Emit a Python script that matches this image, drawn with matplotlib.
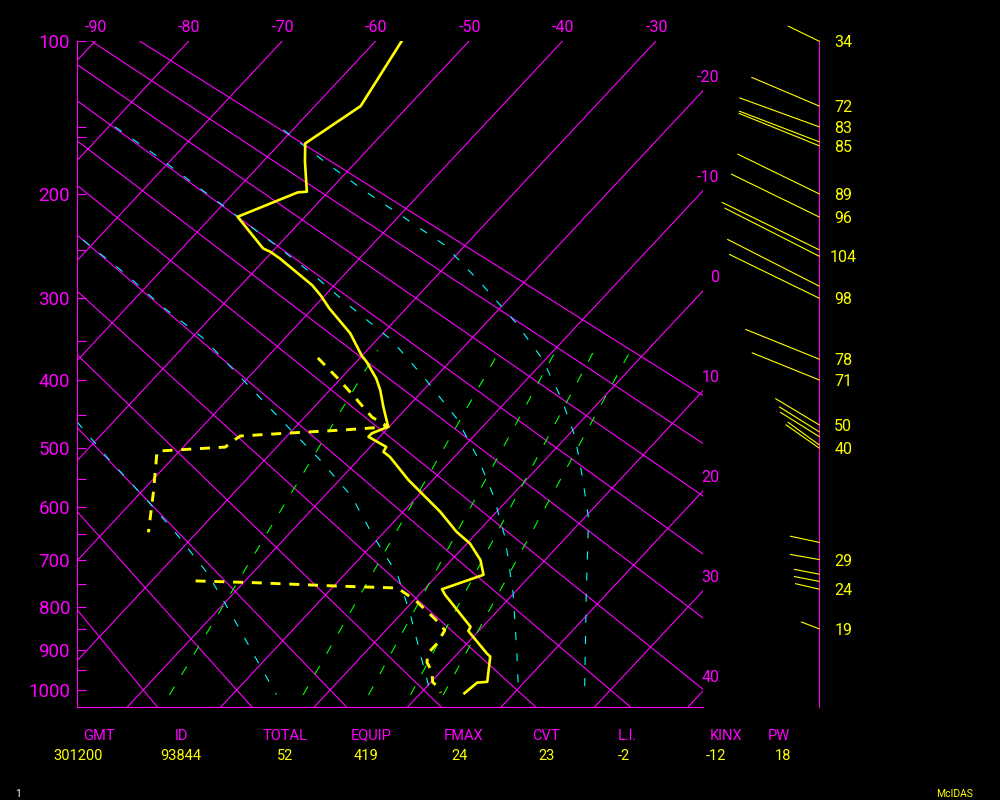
import numpy as np
import matplotlib
matplotlib.use("Agg")
import matplotlib.pyplot as plt

plt.rcParams["font.family"] = ["Roboto", "DejaVu Sans"]
plt.rcParams["lines.scale_dashes"] = False

MAGENTA = "#ff00ff"
YELLOW = "#ffff00"
CYAN = "#00ffff"
GREEN = "#00ff00"

KAPPA = 0.286
P_TOP, P_BOT = 100.0, 1045.0
SKEW = 18.64          # degC of skew per unit of p**kappa
X_MIN, X_MAX = -91.93, -24.94

# temperature sounding (hPa, degC)
temp_p = [100, 136.5, 161.4, 174.7, 198.2, 198.7, 219.5, 248.7, 251.9, 258.5,
          285.8, 296.6, 311.5, 340.4, 367.6, 376, 398, 414, 437.6, 466.9,
          477, 482.2, 498, 505.9, 514, 552.4, 608.6, 645.5, 667.9, 701,
          731.2, 761.6, 773.8, 845, 855, 908, 916, 979, 981, 1008.6]
temp_t = [-57.2, -55.1, -57.3, -55.5, -52.3, -53.2, -57.2, -51.3, -50.2, -48.5,
          -42.4, -40.5, -38.2, -33.5, -30.1, -28.9, -26.2, -24.6, -22.6, -20.1,
          -21.2, -21.2, -18.3, -18.1, -16.9, -12.6, -6.0, -2.3, 0.3, 3.1,
          4.9, 1.9, 2.8, 8.7, 8.9, 13.1, 13.8, 16.0, 15.0, 14.7]

# dewpoint sounding, gap (nan) where it is missing
dewp_p = [371, 398, 424, 452.5, 466.9, 471.8, 476.4, 481, 488.9, 498.3,
          504.7, 522.5, 573, 646.6, np.nan,
          744, 748, 755, 759, 785, 828, 853, 884, 908, 930, 952, 980, 993, 1007]
dewp_t = [-34.5, -30.3, -26.6, -22.8, -20.1, -24.6, -30.0, -35.0, -35.3, -35.5,
          -42.4, -41.4, -38.7, -35.2, np.nan,
          -25.3, -18.4, -9.5, -3.0, 0.1, 4.2, 6.3, 6.8, 6.8, 7.6, 9.0, 10.2, 11.3, 12.1]

# winds along the right axis
wind_p = [100, 136.5, 150, 160.3, 163.1, 200, 219.7, 250, 256.3, 286.9, 300, 372.6,
          400, 464.1, 474.6, 482, 495, 500, 666, 700, 730, 745, 761.6, 850]
wind_dir = [296, 293, 290, 291, 292, 296, 296, 296, 297, 297, 296, 292,
            292, 301, 302, 302, 306, 305, 282, 280, 281, 281, 283, 291]
wind_spd = [34, 72, 83, 84, 85, 89, 96, 106, 104, 101, 98, 78,
            71, 50, 46, 45, 38, 40, 29, 29, 25, 25, 24, 19]
wind_lab = [1, 1, 1, 0, 1, 1, 1, 0, 1, 0, 1, 1,
            1, 1, 0, 0, 0, 1, 0, 1, 0, 0, 1, 1]

isotherms = np.arange(-90, 41, 10)
dry_adiabats = np.arange(-20, 91, 10)

# saturated adiabats
moist_a_p = [150, 168.5, 191.4, 216.5, 243.9, 273.6, 311.5, 348.6, 398, 454.5, 516.6, 581.3, 655.4, 770, 900.5, 1009]
moist_a_t = [-79.3, -72.6, -65.3, -58.0, -50.7, -43.6, -35.7, -28.4, -21.0, -13.6, -7.3, -1.8, 3.4, 9.9, 16.0, 20.5]
moist_b_p = [152, 174.7, 196.9, 219.5, 245.5, 282.3, 326.8, 371.4, 425.4, 482.2, 550, 620.4, 785, 1015]
moist_b_t = [-61.0, -53.4, -46.4, -39.5, -32.2, -24.8, -17.0, -10.5, -4.4, 0.9, 5.9, 10.5, 18.4, 27.8]
moist_c_p = [240.7, 273.6, 309.7, 346.5, 398, 456.9, 522, 581.3, 652.2, 731.2, 813, 904.6, 1005]
moist_c_t = [-71.4, -63.6, -56.2, -48.7, -40.6, -32.2, -23.7, -17.0, -10.9, -4.3, 0.8, 5.8, 10.9]
moist_d_p = [459.4, 516.6, 587.2, 649, 728, 811.6, 908, 1012]
moist_d_t = [-53.9, -46.9, -38.6, -32.1, -24.8, -18.5, -11.9, -5.3]

# mixing ratio lines: temperature at their lower and upper ends
mix_t_bot = [-16.7, -2.4, 4.6, 9.1, 12.6]
mix_t_top = [-28.9, -15.8, -9.8, -5.7, -1.8]
MIX_P_BOT, MIX_P_TOP = 1013, 361

p_major = [100, 200, 300, 400, 500, 600, 700, 800, 900, 1000]
p_minor = [150, 157, 250, 350, 450, 550, 650, 750, 850, 950]

hdr_names = ["GMT", "ID", "TOTAL", "EQUIP", "FMAX", "CVT", "L.I.", "KINX", "PW"]
hdr_values = ["301200", "93844", "52", "419", "24", "23", "-2", "-12", "18"]
hdr_name_x = [99, 181, 285, 371, 464, 546, 627, 726, 779]
hdr_value_x = [78, 181, 285, 366, 460, 547, 624, 716, 783]


def pk(p):
    return np.sign(p) * np.abs(p) ** KAPPA


def pk_inv(y):
    return np.sign(y) * np.abs(y) ** (1.0 / KAPPA)


def skew_x(t, p):
    return np.asarray(t, float) - SKEW * (pk(np.asarray(p, float)) - pk(P_TOP))


fig = plt.figure(figsize=(10, 8), dpi=100, facecolor="black")
bottom = 1 - 707 / 800
height = (707 - 41.3) / 800
ax = fig.add_axes([0.077, bottom, 0.626, height], facecolor="black")
ax.set_yscale("function", functions=(pk, pk_inv))
ax.set_xlim(X_MIN, X_MAX)
ax.set_ylim(P_BOT, P_TOP)

pp = np.linspace(P_TOP, P_BOT, 60)
for t in isotherms:
    ax.plot(skew_x(t, pp), pp, color=MAGENTA, lw=0.8)
for th in dry_adiabats:
    tt = (th + 273.15) * (pp / 1000.0) ** KAPPA - 273.15
    ax.plot(skew_x(tt, pp), pp, color=MAGENTA, lw=0.8)

for mp, mt in [(moist_a_p, moist_a_t), (moist_b_p, moist_b_t),
               (moist_c_p, moist_c_t), (moist_d_p, moist_d_t)]:
    ax.plot(skew_x(mt, mp), mp, color=CYAN, lw=0.8, dashes=(5.8, 9.4))

for tb, tt in zip(mix_t_bot, mix_t_top):
    ax.plot(skew_x([tb, tt], [MIX_P_BOT, MIX_P_TOP]), [MIX_P_BOT, MIX_P_TOP],
            color=GREEN, lw=0.8, dashes=(7.0, 10.0))

ax.plot(skew_x(dewp_t, dewp_p), dewp_p, color=YELLOW, lw=2.1, dashes=(7.2, 6.3))
ax.plot(skew_x(temp_t, temp_p), temp_p, color=YELLOW, lw=1.9)

for s in ["top", "right"]:
    ax.spines[s].set_visible(False)
for s in ["left", "bottom"]:
    ax.spines[s].set_color(MAGENTA)
    ax.spines[s].set_linewidth(0.8)
ax.set_xticks([])
ax.set_yticks(p_major)
ax.set_yticklabels([str(p) for p in p_major])
ax.set_yticks(p_minor, minor=True)
ax.tick_params(axis="y", which="both", direction="in", length=6.3, width=0.8,
               color=MAGENTA, labelcolor=MAGENTA, labelsize=13.5, pad=5)

# isotherm labels: along the top and down the right edge
for t in isotherms:
    if t <= -30:
        ax.annotate(f"{t}", xy=(skew_x(t, P_TOP), P_TOP), xytext=(1, 13.5),
                    textcoords="offset pixels", ha="center", va="center",
                    color=MAGENTA, fontsize=11.5, annotation_clip=False)
    else:
        p_edge = pk_inv(pk(P_TOP) + (t - X_MAX) / SKEW)
        ax.annotate(f"{t}", xy=(X_MAX, p_edge), xytext=(16.5, 13.5),
                    textcoords="offset pixels", ha="right", va="center",
                    color=MAGENTA, fontsize=11.5, annotation_clip=False)

# wind profile axis
axw = fig.add_axes([0.703, bottom, 0.1163, height], sharey=ax)
axw.patch.set_visible(False)
axw.set_xlim(-116.3, 0)
for s in ["top", "left", "bottom"]:
    axw.spines[s].set_visible(False)
axw.spines["right"].set_color(MAGENTA)
axw.spines["right"].set_linewidth(0.8)
axw.tick_params(which="both", left=False, labelleft=False, bottom=False,
                labelbottom=False, right=False)

for p, d, s, lab in zip(wind_p, wind_dir, wind_spd, wind_lab):
    a = np.deg2rad(d - 270)
    length = s * 1.02
    axw.annotate("", xy=(0, p), xytext=(-length * np.cos(a), length * np.sin(a)),
                 textcoords="offset pixels", annotation_clip=False,
                 arrowprops=dict(arrowstyle="-", color=YELLOW, lw=0.8,
                                 shrinkA=0, shrinkB=0))
    if lab:
        axw.annotate(f"{s}", xy=(0, p), xytext=(24, -1.5), textcoords="offset pixels",
                     ha="center", va="center", color=YELLOW, fontsize=11.5,
                     annotation_clip=False)

for name, x in zip(hdr_names, hdr_name_x):
    fig.text(x / 1000, 1 - 739.5 / 800, name, ha="center", va="baseline",
             color=MAGENTA, fontsize=10.5)
for val, x in zip(hdr_values, hdr_value_x):
    fig.text(x / 1000, 1 - 759.5 / 800, val, ha="center", va="baseline",
             color=YELLOW, fontsize=10.5)

fig.text(18 / 1000, 1 - 794 / 800, "1", ha="center", va="center", color="white", fontsize=7.5)
fig.text(955 / 1000, 1 - 794 / 800, "McIDAS", ha="center", va="center", color=YELLOW, fontsize=7.5)

fig.savefig("out.png", dpi=100, facecolor="black")
